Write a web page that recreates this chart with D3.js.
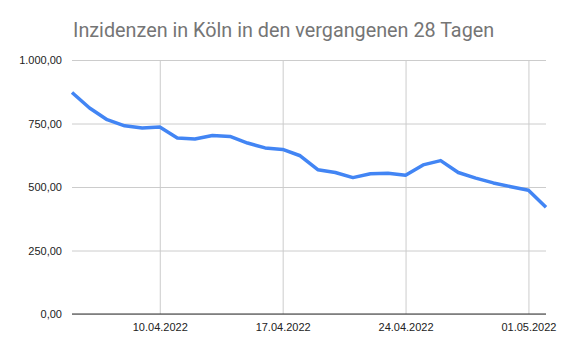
<!DOCTYPE html>
<html lang="de">
<head>
  <meta charset="UTF-8">
  <title>Inzidenzen in Köln</title>
  <style>
    html, body { margin: 0; padding: 0; background: #fff; }
    svg { display: block; }
  </style>
</head>
<body>
  <div id="chart"></div>
  <script src="https://d3js.org/d3.v7.min.js"></script>
  <script>
    const SVGWIDTH = 564;
    const SVGHEIGHT = 352;
    const margin = {top: 60, right: 18, bottom: 38, left: 72};
    const innerWidth = SVGWIDTH - margin.left - margin.right;
    const innerHeight = SVGHEIGHT - margin.top - margin.bottom;

    const TITLE = 'Inzidenzen in Köln in den vergangenen 28 Tagen';

    // one value per day, 05.04.2022 - 02.05.2022
    const dates = [
      '05.04.2022', '06.04.2022', '07.04.2022', '08.04.2022', '09.04.2022', '10.04.2022', '11.04.2022',
      '12.04.2022', '13.04.2022', '14.04.2022', '15.04.2022', '16.04.2022', '17.04.2022', '18.04.2022',
      '19.04.2022', '20.04.2022', '21.04.2022', '22.04.2022', '23.04.2022', '24.04.2022', '25.04.2022',
      '26.04.2022', '27.04.2022', '28.04.2022', '29.04.2022', '30.04.2022', '01.05.2022', '02.05.2022'
    ];
    const incidence = [
      872, 811, 765, 741, 732, 736, 693,
      689, 703, 699, 673, 654, 648, 623,
      568, 557, 537, 552, 554, 546, 587,
      604, 557, 535, 516, 501, 487, 420
    ];
    const xTickLabels = ['10.04.2022', '17.04.2022', '24.04.2022', '01.05.2022'];
    const yTicks = [0, 250, 500, 750, 1000];

    const parseDate = d3.timeParse('%d.%m.%Y');
    const formatDate = d3.timeFormat('%d.%m.%Y');
    const deLocale = d3.formatLocale({decimal: ',', thousands: '.', grouping: [3], currency: ['', ' €']});
    const formatValue = deLocale.format(',.2f');

    const dataset = dates.map((d, i) => ({date: parseDate(d), value: incidence[i]}));

    const xScale = d3.scaleTime()
      .domain(d3.extent(dataset, d => d.date))
      .range([0, innerWidth]);

    const yScale = d3.scaleLinear()
      .domain([0, 1000])
      .range([innerHeight, 0]);

    const svg = d3.select('#chart')
      .append('svg')
      .attr('width', SVGWIDTH)
      .attr('height', SVGHEIGHT)
      .attr('viewBox', `0 0 ${SVGWIDTH} ${SVGHEIGHT}`);

    // title
    svg.append('text')
      .attr('x', 73)
      .attr('y', 37)
      .attr('font-family', 'Roboto, Arial, sans-serif')
      .attr('font-size', '19.8px')
      .attr('fill', '#757575')
      .text(TITLE);

    const mainCont = svg.append('g')
      .attr('transform', `translate(${margin.left},${margin.top})`);

    // horizontal grid + y labels
    const yAxis = d3.axisLeft(yScale)
      .tickValues(yTicks)
      .tickSize(-innerWidth)
      .tickPadding(10)
      .tickFormat(formatValue);

    const yAxisCont = mainCont.append('g').call(yAxis);
    yAxisCont.select('.domain').remove();
    yAxisCont.selectAll('line').attr('stroke', '#cccccc');
    yAxisCont.selectAll('text')
      .attr('font-family', '"Liberation Sans", Arial, sans-serif')
      .attr('font-size', '11px')
      .attr('fill', '#222');

    // vertical grid + x labels
    const xAxis = d3.axisBottom(xScale)
      .tickValues(xTickLabels.map(parseDate))
      .tickSize(-innerHeight)
      .tickPadding(9)
      .tickFormat(formatDate);

    const xAxisCont = mainCont.append('g')
      .attr('transform', `translate(0,${innerHeight})`)
      .call(xAxis);
    xAxisCont.select('.domain').remove();
    xAxisCont.selectAll('line').attr('stroke', '#cccccc');
    xAxisCont.selectAll('text')
      .attr('font-family', '"Liberation Sans", Arial, sans-serif')
      .attr('font-size', '11px')
      .attr('fill', '#222');

    // baseline at zero
    mainCont.append('line')
      .attr('x1', 0)
      .attr('x2', innerWidth)
      .attr('y1', yScale(0))
      .attr('y2', yScale(0))
      .attr('stroke', '#333')
      .attr('stroke-width', 1);

    // the line
    const line = d3.line()
      .x(d => xScale(d.date))
      .y(d => yScale(d.value));

    mainCont.append('path')
      .datum(dataset)
      .attr('d', line)
      .attr('fill', 'none')
      .attr('stroke', '#4285f4')
      .attr('stroke-width', 3.5)
      .attr('stroke-linejoin', 'round');
  </script>
</body>
</html>
